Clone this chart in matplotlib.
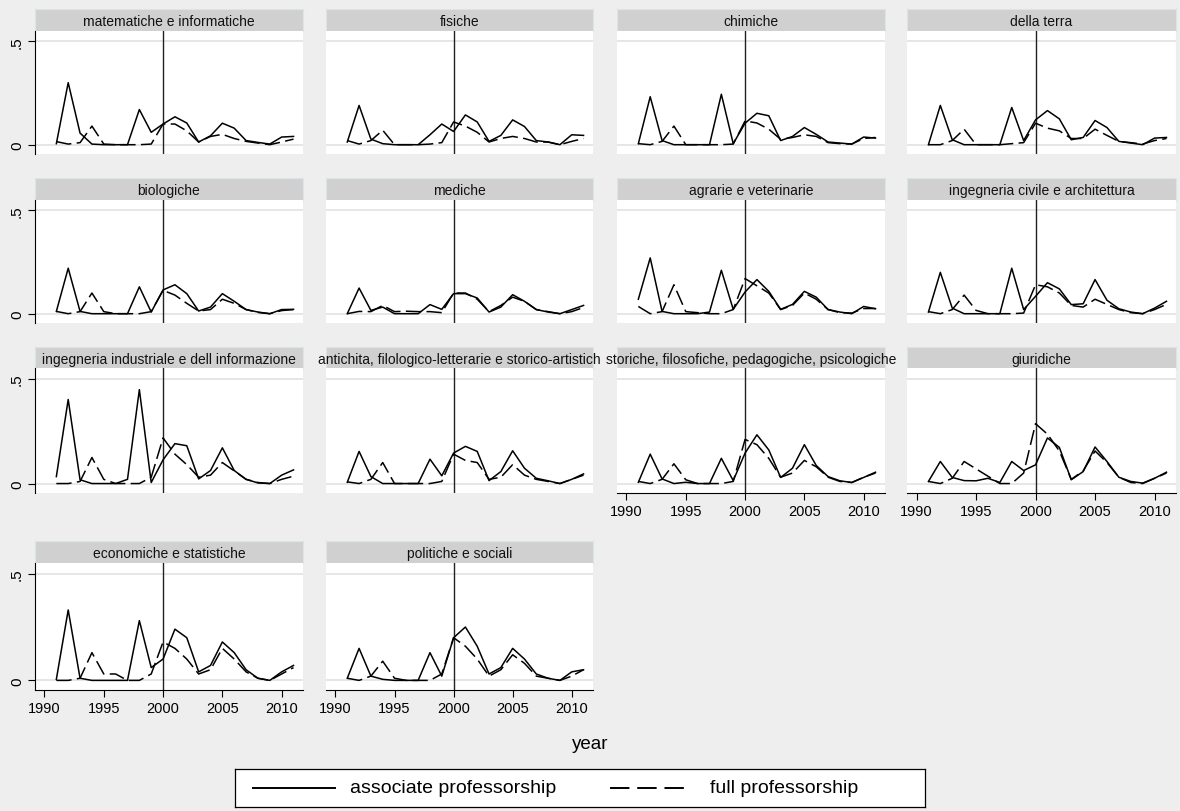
import numpy as np
import matplotlib.pyplot as plt

plt.rcParams['font.family'] = ['Liberation Sans', 'DejaVu Sans']

years = np.arange(1991, 2012)
tick_years = [1990, 1995, 2000, 2005, 2010]

# share of new positions per year, associate (solid) and full (dashed)
mat_assoc = [0.005, 0.30, 0.056, 0.003, 0, 0, 0, 0.17, 0.06, 0.10, 0.135, 0.105, 0.013, 0.043, 0.104, 0.08, 0.02, 0.011, 0.003, 0.037, 0.04]
mat_full = [0.015, 0.003, 0.01, 0.09, 0.003, 0, 0, 0, 0.003, 0.10, 0.10, 0.067, 0.013, 0.04, 0.05, 0.03, 0.016, 0.008, 0, 0.013, 0.027]
fis_assoc = [0.013, 0.19, 0.027, 0.005, 0, 0, 0, 0.048, 0.10, 0.064, 0.144, 0.11, 0.016, 0.045, 0.12, 0.088, 0.02, 0.013, 0, 0.048, 0.045]
fis_full = [0.02, 0.003, 0.02, 0.07, 0, 0, 0, 0.003, 0.01, 0.11, 0.09, 0.06, 0.013, 0.03, 0.04, 0.03, 0.013, 0.013, 0, 0.016, 0.03]
chi_assoc = [0.005, 0.232, 0.02, 0, 0, 0, 0, 0.244, 0.005, 0.104, 0.152, 0.14, 0.02, 0.04, 0.083, 0.05, 0.013, 0.008, 0.003, 0.037, 0.032]
chi_full = [0.005, 0, 0.016, 0.09, 0, 0, 0, 0, 0.003, 0.115, 0.105, 0.075, 0.026, 0.035, 0.048, 0.04, 0.01, 0.005, 0.003, 0.03, 0.035]
ter_assoc = [0, 0.19, 0.024, 0, 0, 0, 0, 0.18, 0.02, 0.12, 0.165, 0.125, 0.024, 0.035, 0.117, 0.083, 0.016, 0.008, 0, 0.032, 0.035]
ter_full = [0, 0, 0.02, 0.075, 0, 0, 0, 0.005, 0.01, 0.104, 0.08, 0.067, 0.03, 0.03, 0.075, 0.045, 0.016, 0.01, 0.003, 0.02, 0.03]
bio_assoc = [0.011, 0.22, 0.011, 0, 0, 0, 0, 0.13, 0.008, 0.115, 0.14, 0.097, 0.013, 0.032, 0.097, 0.06, 0.02, 0.008, 0, 0.02, 0.021]
bio_full = [0.011, 0, 0.01, 0.10, 0.01, 0, 0, 0, 0.01, 0.113, 0.09, 0.05, 0.013, 0.02, 0.07, 0.05, 0.02, 0.006, 0, 0.015, 0.02]
med_assoc = [0, 0.124, 0.016, 0.032, 0, 0, 0, 0.044, 0.021, 0.097, 0.097, 0.076, 0.008, 0.032, 0.092, 0.06, 0.02, 0.008, 0, 0.02, 0.04]
med_full = [0, 0.011, 0.01, 0.04, 0.01, 0.012, 0.01, 0.01, 0.005, 0.10, 0.10, 0.07, 0.01, 0.04, 0.08, 0.06, 0.02, 0.01, 0, 0.01, 0.03]
agr_assoc = [0.07, 0.27, 0.011, 0, 0, 0, 0.008, 0.21, 0.021, 0.105, 0.165, 0.108, 0.021, 0.045, 0.108, 0.08, 0.02, 0.008, 0, 0.035, 0.024]
agr_full = [0.035, 0, 0.01, 0.14, 0.01, 0.005, 0, 0, 0.02, 0.17, 0.135, 0.10, 0.02, 0.04, 0.10, 0.07, 0.02, 0.005, 0.003, 0.025, 0.025]
civ_assoc = [0.008, 0.20, 0.027, 0, 0, 0, 0, 0.22, 0.02, 0.084, 0.15, 0.12, 0.044, 0.048, 0.165, 0.065, 0.024, 0.008, 0, 0.027, 0.06]
civ_full = [0.01, 0, 0.02, 0.09, 0.016, 0, 0, 0, 0.003, 0.14, 0.13, 0.10, 0.04, 0.032, 0.07, 0.045, 0.02, 0.005, 0, 0.02, 0.045]
ind_assoc = [0.033, 0.40, 0.018, 0, 0, 0, 0.02, 0.447, 0.005, 0.113, 0.19, 0.18, 0.022, 0.062, 0.17, 0.062, 0.02, 0.003, 0, 0.04, 0.065]
ind_full = [0, 0, 0.01, 0.124, 0.02, 0, 0, 0, 0.03, 0.217, 0.14, 0.09, 0.03, 0.04, 0.10, 0.06, 0.02, 0.005, 0, 0.02, 0.035]
ant_assoc = [0.006, 0.153, 0.033, 0, 0, 0, 0, 0.116, 0.037, 0.145, 0.177, 0.153, 0.014, 0.057, 0.156, 0.073, 0.025, 0.013, 0, 0.02, 0.046]
ant_full = [0.008, 0, 0.02, 0.10, 0, 0, 0, 0, 0.01, 0.14, 0.11, 0.10, 0.02, 0.03, 0.09, 0.04, 0.02, 0.01, 0, 0.02, 0.04]
sto_assoc = [0.006, 0.14, 0.022, 0, 0.006, 0, 0, 0.12, 0.014, 0.145, 0.232, 0.16, 0.029, 0.073, 0.185, 0.086, 0.033, 0.013, 0.005, 0.029, 0.054]
sto_full = [0.01, 0, 0.02, 0.094, 0.018, 0, 0, 0, 0.01, 0.21, 0.185, 0.12, 0.03, 0.05, 0.11, 0.08, 0.03, 0.01, 0.005, 0.03, 0.05]
giu_assoc = [0.01, 0.105, 0.029, 0.014, 0.013, 0.025, 0.005, 0.105, 0.062, 0.089, 0.217, 0.172, 0.018, 0.057, 0.174, 0.105, 0.03, 0.01, 0.002, 0.025, 0.054]
giu_full = [0.01, 0, 0.025, 0.105, 0.07, 0.035, 0, 0, 0.05, 0.285, 0.235, 0.155, 0.02, 0.06, 0.155, 0.10, 0.03, 0.005, 0, 0.025, 0.05]
eco_assoc = [0.005, 0.33, 0.01, 0, 0, 0, 0, 0.28, 0.06, 0.10, 0.24, 0.20, 0.04, 0.07, 0.18, 0.13, 0.05, 0.01, 0, 0.04, 0.07]
eco_full = [0, 0, 0.01, 0.13, 0.03, 0.03, 0, 0, 0.03, 0.18, 0.15, 0.10, 0.03, 0.05, 0.15, 0.10, 0.04, 0.01, 0, 0.03, 0.06]
pol_assoc = [0.01, 0.15, 0.02, 0.005, 0, 0, 0, 0.13, 0.02, 0.20, 0.25, 0.16, 0.03, 0.06, 0.15, 0.10, 0.03, 0.01, 0, 0.04, 0.05]
pol_full = [0.01, 0, 0.02, 0.09, 0.01, 0, 0, 0, 0.03, 0.20, 0.16, 0.10, 0.02, 0.05, 0.12, 0.08, 0.02, 0.01, 0, 0.02, 0.05]

fields = ['matematiche e informatiche', 'fisiche', 'chimiche', 'della terra',
          'biologiche', 'mediche', 'agrarie e veterinarie', 'ingegneria civile e architettura',
          'ingegneria industriale e dell informazione',
          'antichita, filologico-letterarie e storico-artistich',
          'storiche, filosofiche, pedagogiche, psicologiche', 'giuridiche',
          'economiche e statistiche', 'politiche e sociali']
assoc = [mat_assoc, fis_assoc, chi_assoc, ter_assoc, bio_assoc, med_assoc, agr_assoc,
         civ_assoc, ind_assoc, ant_assoc, sto_assoc, giu_assoc, eco_assoc, pol_assoc]
full = [mat_full, fis_full, chi_full, ter_full, bio_full, med_full, agr_full,
        civ_full, ind_full, ant_full, sto_full, giu_full, eco_full, pol_full]

W, H = 1180, 812
BG = '#EEEEEE'
STRIP = '#D0D0D0'
GRID = '#E6E6E6'
DASH = (0, (10, 3.5))

fig = plt.figure(figsize=(W / 100, H / 100), dpi=100, facecolor=BG)


def px_axes(x0, y0, x1, y1):
    return fig.add_axes([x0 / W, 1 - y1 / H, (x1 - x0) / W, (y1 - y0) / H])


cols = [(35, 303), (326, 593), (617, 885), (907, 1176)]
rows = [(10, 32, 155), (179, 201, 324), (348, 369, 494), (542, 564, 691)]

for i, name in enumerate(fields):
    r, c = divmod(i, 4)
    x0, x1 = cols[c]
    st, top, bot = rows[r]

    # strip with the field name
    sax = px_axes(x0, st, x1, top)
    sax.set_facecolor(STRIP)
    for s in sax.spines.values():
        s.set_color('#DCE4E8')
        s.set_linewidth(0.8)
    sax.set_xticks([])
    sax.set_yticks([])
    sax.text(0.5, 0.45, name, ha='center', va='center', fontsize=10,
             color='#111111', transform=sax.transAxes, clip_on=False, zorder=5 + i)

    ax = px_axes(x0, top, x1, bot)
    ax.set_facecolor('white')
    ax.set_xlim(1989.2, 2011.8)
    ax.set_ylim(-0.045, 0.55)
    for y in (0, 0.5):
        ax.axhline(y, color=GRID, lw=1.4, zorder=1)
    ax.axvline(2000, color='#222222', lw=1.0, zorder=2)
    ax.plot(years, assoc[i], color='black', lw=1.1, zorder=3)
    ax.plot(years, full[i], color='black', lw=1.1, ls=DASH, zorder=3)

    for s in ax.spines.values():
        s.set_visible(False)

    # x axis only on the lowest panel of each column
    if (r == 3 and c < 2) or (r == 2 and c >= 2):
        ax.spines['bottom'].set_visible(True)
        ax.spines['bottom'].set_color('black')
        ax.spines['bottom'].set_linewidth(0.8)
        ax.set_xticks(tick_years)
        ax.tick_params(axis='x', length=5, width=0.8, labelsize=10.5, pad=3)
    else:
        ax.set_xticks([])

    if c == 0:
        ax.spines['left'].set_visible(True)
        ax.spines['left'].set_color('black')
        ax.spines['left'].set_linewidth(0.8)
        ax.set_yticks([0, 0.5])
        ax.set_yticklabels(['0', '.5'], rotation=90, va='center')
        ax.tick_params(axis='y', length=5, width=0.8, labelsize=11, pad=3)
    else:
        ax.set_yticks([])

fig.text(590 / W, 1 - 745 / H, 'year', ha='center', va='center', fontsize=13.5)

# legend box
lax = px_axes(235, 770, 925, 808)
lax.set_xlim(235, 925)
lax.set_ylim(0, 1)
lax.set_facecolor('white')
for s in lax.spines.values():
    s.set_color('black')
    s.set_linewidth(0.9)
lax.set_xticks([])
lax.set_yticks([])
lax.plot([253, 335], [0.5, 0.5], color='black', lw=1.4)
lax.text(350, 0.5, 'associate professorship', va='center', ha='left', fontsize=14)
lax.plot([610, 690], [0.5, 0.5], color='black', lw=1.4, ls=(0, (10, 4)))
lax.text(710, 0.5, 'full professorship', va='center', ha='left', fontsize=14)

fig.savefig('out.png', dpi=100, facecolor=BG)
